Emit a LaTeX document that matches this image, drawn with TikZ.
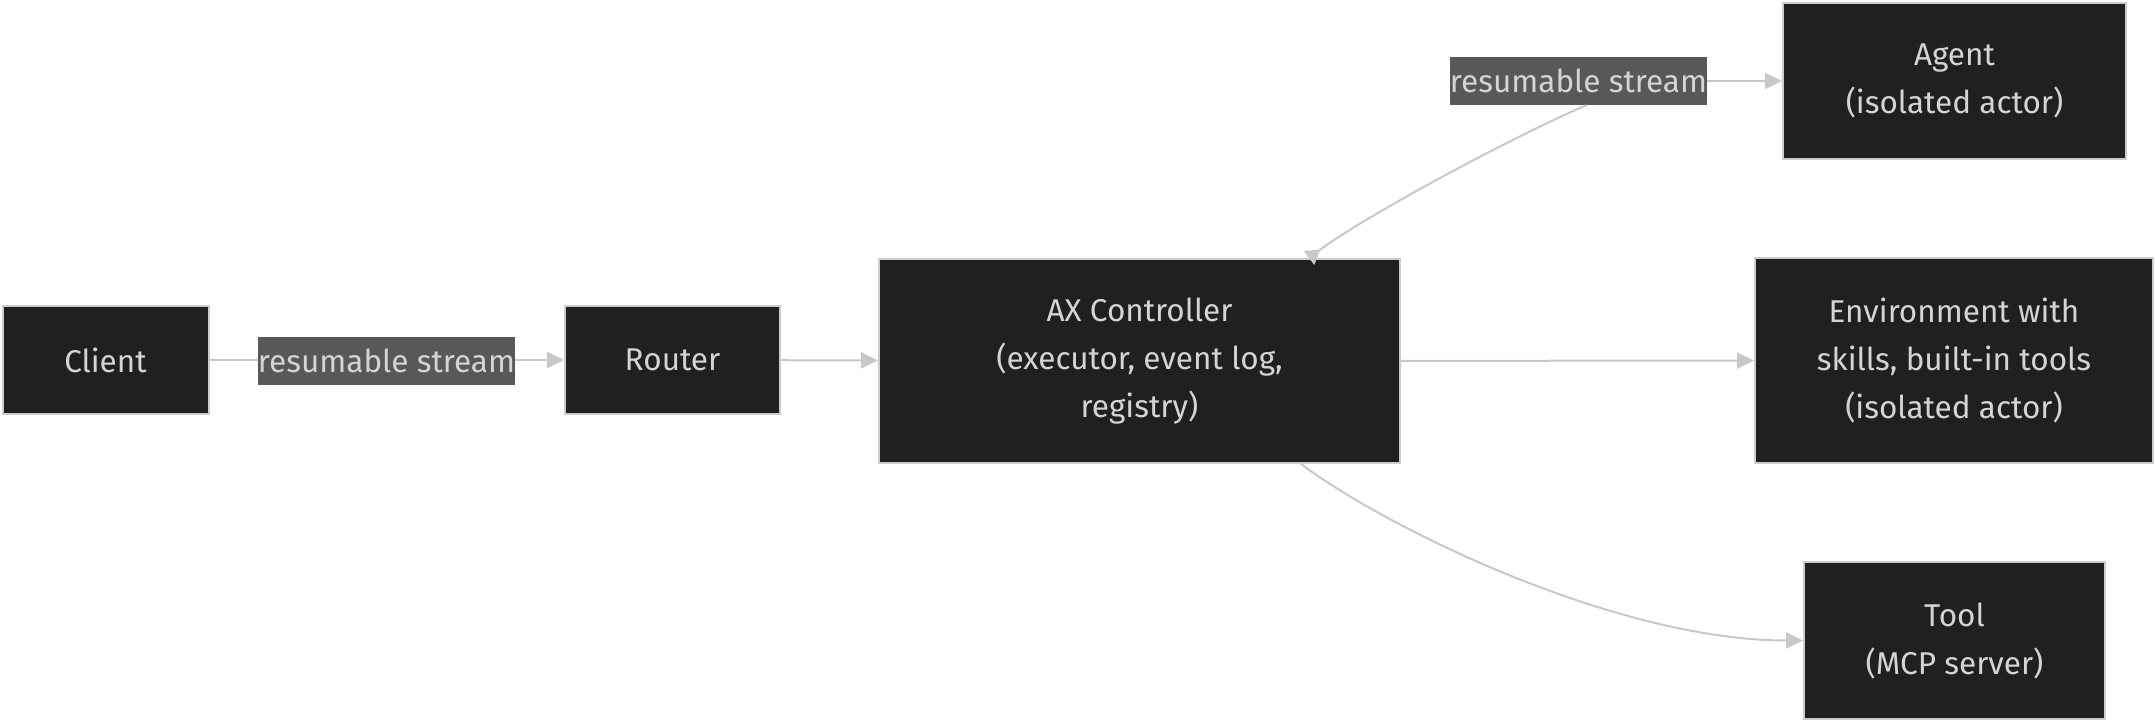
\documentclass[tikz,border=0pt]{standalone}
\usepackage{fontspec}
\setmainfont{Fira Sans}
\usetikzlibrary{arrows.meta}

\definecolor{boxfill}{HTML}{1F2020}
\definecolor{boxline}{HTML}{CCCCCC}
\definecolor{boxtext}{HTML}{D4D4D4}
\definecolor{tagfill}{HTML}{585858}
\definecolor{edgeline}{HTML}{C8C8C8}

\tikzset{
  block/.style = {draw = boxline, line width = 2pt, fill = boxfill, text = boxtext,
    align = center, inner sep = 0pt, font = \fontsize{31.5}{48}\selectfont},
  tag/.style = {fill = tagfill, text = boxtext, inner sep = 0pt,
    minimum width = 257pt, minimum height = 48pt, font = \fontsize{31.5}{48}\selectfont},
  flow/.style = {draw = edgeline, line width = 2pt,
    -{Triangle[length = 17pt, width = 16pt]}},
}

\begin{document}
\begin{tikzpicture}[x = 1pt, y = -1pt]
%\draw [very thin, color = gray] (0, 0) grid [step = 100] (2155, 722);
\useasboundingbox (0, 0) rectangle (2155, 722);
\node [block, minimum width = 206pt, minimum height = 108pt] (client) at (105.5, 360) {Client};
\node [block, minimum width = 215pt, minimum height = 108pt] (router) at (672.5, 360) {Router};
\node [block, minimum width = 521pt, minimum height = 204pt] (ax) at (1139.5, 361) {AX Controller\\(executor, event log,\\registry)};
\node [block, minimum width = 343pt, minimum height = 156pt] (agent) at (1954.5, 81) {Agent\\(isolated actor)};
\node [block, minimum width = 398pt, minimum height = 205pt] (env) at (1954, 360.5) {Environment with\\skills, built-in tools\\(isolated actor)};
\node [block, minimum width = 301pt, minimum height = 157pt] (tool) at (1954.5, 640.5) {Tool\\(MCP server)};
\draw [flow] (client) to (router);
\node [tag] (clienttag) at (386.5, 361) {resumable stream};
\draw [flow] (router) to (ax);
\draw [flow] (ax) to (env);
\node [tag] (agenttag) at (1578.5, 81) {resumable stream};
\draw [flow] (agenttag) to (agent);
\draw [draw = edgeline, line width = 2pt, {Triangle[reversed, length = 14pt, width = 17pt]}-]
  ([xshift = -92pt]ax.north east) .. controls +(60, -45) and +(-60, 25) .. ([xshift = 8pt]agenttag.south);
\draw [flow] ([xshift = -100pt]ax.south east) .. controls +(90, 67) and +(-184, 0) .. (tool.west);
\end{tikzpicture}
\end{document}
